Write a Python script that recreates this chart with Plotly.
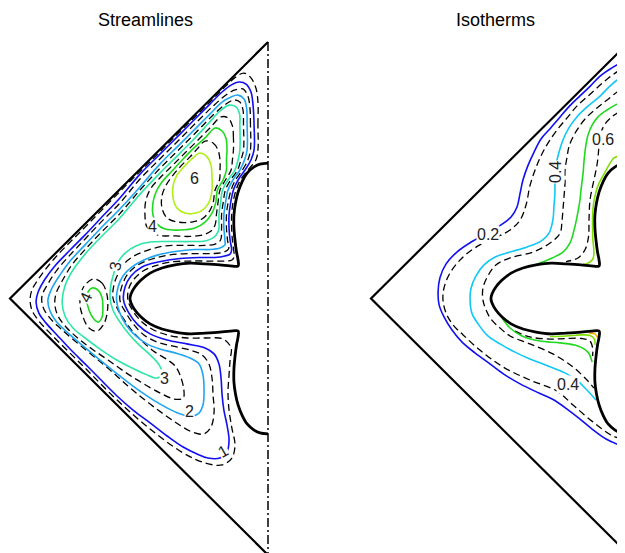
import plotly.graph_objects as go

# ---------------- geometry (dimensionless: left corner (0,0), symmetry line x=1) -------------
cavity = [(1.0, 1.0), (0.0, 0.0), (1.0, -1.0)]
symmetry_line = [(1.0, 1.0), (1.0, -1.0)]
body = [(1.000, 0.528), (0.969, 0.524), (0.946, 0.513), (0.919, 0.489), (0.899, 0.454), (0.884, 0.415),
        (0.874, 0.372), (0.868, 0.326), (0.868, 0.275), (0.872, 0.228), (0.878, 0.181), (0.884, 0.150),
        (0.884, 0.127), (0.853, 0.127), (0.814, 0.131), (0.756, 0.135), (0.698, 0.138), (0.640, 0.131),
        (0.589, 0.119), (0.543, 0.099), (0.508, 0.072), (0.484, 0.045), (0.469, 0.018), (0.465, 0.000),
        (0.469, -0.018), (0.484, -0.045), (0.508, -0.072), (0.543, -0.099), (0.589, -0.119), (0.640, -0.131),
        (0.698, -0.138), (0.756, -0.135), (0.814, -0.131), (0.853, -0.127), (0.884, -0.127), (0.884, -0.150),
        (0.878, -0.181), (0.872, -0.228), (0.868, -0.275), (0.868, -0.326), (0.874, -0.372), (0.884, -0.415),
        (0.899, -0.454), (0.919, -0.489), (0.946, -0.513), (0.969, -0.524), (1.000, -0.528)]

# ---------------- streamlines (solid = case A, dashed = case B) ----------------
psi_1 = [(0.946,0.579),(0.946,0.676),(0.942,0.754),(0.934,0.805),(0.915,0.836),(0.888,0.844),(0.857,0.832),(0.822,0.805),(0.775,0.758),(0.717,0.700),(0.659,0.641),(0.581,0.563),(0.504,0.485),(0.426,0.392),(0.349,0.310),(0.291,0.248),(0.233,0.189),(0.174,0.127),(0.136,0.076),(0.109,0.025),(0.101,-0.014),(0.112,-0.057),(0.140,-0.096),(0.182,-0.142),(0.233,-0.197),(0.291,-0.255),(0.349,-0.314),(0.415,-0.380),(0.477,-0.435),(0.543,-0.485),(0.609,-0.536),(0.671,-0.579),(0.725,-0.606),(0.767,-0.622),(0.814,-0.622),(0.841,-0.598),(0.849,-0.552),(0.841,-0.493),(0.829,-0.435),(0.822,-0.376),(0.818,-0.310),(0.810,-0.255),(0.791,-0.216),(0.756,-0.193),(0.686,-0.177),(0.609,-0.162),(0.543,-0.138),(0.496,-0.103),(0.461,-0.057),(0.440,-0.006),(0.446,0.045),(0.469,0.088),(0.512,0.123),(0.574,0.142),(0.659,0.156),(0.736,0.160),(0.795,0.160),(0.833,0.166),(0.853,0.173),(0.859,0.189),(0.853,0.228),(0.849,0.275),(0.849,0.326),(0.855,0.372),(0.866,0.423),(0.884,0.462),(0.911,0.501),(0.934,0.540)]
psi_2 = [(0.919,0.579),(0.919,0.676),(0.917,0.743),(0.907,0.778),(0.884,0.793),(0.857,0.786),(0.822,0.766),(0.775,0.719),(0.736,0.680),(0.659,0.602),(0.581,0.524),(0.504,0.435),(0.426,0.349),(0.349,0.271),(0.291,0.209),(0.233,0.146),(0.194,0.092),(0.163,0.041),(0.147,-0.006),(0.155,-0.049),(0.178,-0.088),(0.221,-0.131),(0.283,-0.185),(0.349,-0.240),(0.426,-0.302),(0.504,-0.361),(0.574,-0.407),(0.640,-0.442),(0.694,-0.458),(0.729,-0.450),(0.748,-0.415),(0.752,-0.357),(0.748,-0.298),(0.733,-0.255),(0.698,-0.232),(0.640,-0.212),(0.581,-0.197),(0.531,-0.177),(0.488,-0.146),(0.453,-0.107),(0.426,-0.057),(0.413,-0.006),(0.419,0.045),(0.438,0.088),(0.473,0.123),(0.519,0.150),(0.574,0.170),(0.640,0.183),(0.717,0.191),(0.775,0.191),(0.814,0.197),(0.833,0.209),(0.833,0.228),(0.829,0.275),(0.829,0.326),(0.835,0.372),(0.845,0.423),(0.864,0.462),(0.891,0.501),(0.909,0.540)]
psi_3 = [(0.891,0.579),(0.891,0.676),(0.890,0.719),(0.876,0.747),(0.849,0.754),(0.814,0.731),(0.767,0.680),(0.717,0.626),(0.659,0.567),(0.581,0.489),(0.504,0.407),(0.426,0.314),(0.349,0.236),(0.291,0.173),(0.244,0.111),(0.213,0.049),(0.202,-0.014),(0.213,-0.068),(0.244,-0.115),(0.291,-0.154),(0.349,-0.197),(0.407,-0.236),(0.465,-0.267),(0.523,-0.294),(0.570,-0.310),(0.589,-0.294),(0.578,-0.259),(0.543,-0.220),(0.500,-0.181),(0.461,-0.138),(0.426,-0.092),(0.399,-0.045),(0.388,0.002),(0.391,0.053),(0.403,0.099),(0.419,0.142),(0.446,0.177),(0.488,0.205),(0.543,0.220),(0.620,0.222),(0.698,0.222),(0.756,0.224),(0.787,0.236),(0.806,0.259),(0.810,0.275),(0.810,0.326),(0.816,0.372),(0.824,0.423),(0.845,0.462),(0.872,0.501),(0.884,0.540)]
psi_4_upper = [(0.795,0.665),(0.822,0.653),(0.837,0.626),(0.841,0.579),(0.839,0.540),(0.839,0.501),(0.826,0.462),(0.804,0.423),(0.797,0.372),(0.783,0.333),(0.756,0.298),(0.717,0.275),(0.659,0.267),(0.601,0.271),(0.570,0.290),(0.554,0.326),(0.554,0.372),(0.566,0.415),(0.589,0.454),(0.628,0.497),(0.671,0.544),(0.717,0.591),(0.760,0.630)]
psi_4_lower = [(0.318,0.041),(0.341,0.033),(0.357,0.002),(0.360,-0.037),(0.357,-0.072),(0.341,-0.092),(0.322,-0.076),(0.306,-0.045),(0.298,-0.006),(0.302,0.025)]
psi_6 = [(0.736,0.567),(0.764,0.552),(0.779,0.520),(0.783,0.470),(0.783,0.423),(0.775,0.384),(0.756,0.353),(0.721,0.333),(0.678,0.333),(0.647,0.353),(0.632,0.392),(0.632,0.439),(0.647,0.481),(0.674,0.513),(0.705,0.544)]

psi_b_05 = [(0.961,0.579),(0.961,0.676),(0.961,0.766),(0.953,0.821),(0.934,0.860),(0.907,0.879),(0.876,0.864),(0.833,0.825),(0.775,0.766),(0.659,0.651),(0.543,0.534),(0.426,0.417),(0.310,0.298),(0.233,0.220),(0.174,0.158),(0.116,0.084),(0.085,0.033),(0.078,-0.006),(0.085,-0.045),(0.109,-0.084),(0.155,-0.135),(0.283,-0.263),(0.415,-0.396),(0.543,-0.509),(0.671,-0.602),(0.756,-0.641),(0.822,-0.649),(0.860,-0.622),(0.872,-0.571),(0.860,-0.505),(0.849,-0.435),(0.845,-0.365),(0.849,-0.298),(0.853,-0.240),(0.857,-0.193),(0.826,-0.158),(0.756,-0.154),(0.686,-0.154),(0.609,-0.142),(0.550,-0.119),(0.508,-0.088),(0.477,-0.049),(0.457,-0.006),(0.461,0.041),(0.481,0.076),(0.516,0.107),(0.562,0.127),(0.620,0.142),(0.698,0.146),(0.775,0.146),(0.829,0.146),(0.860,0.150),(0.870,0.166),(0.868,0.181),(0.862,0.228),(0.859,0.275),(0.859,0.326),(0.864,0.372),(0.876,0.423),(0.893,0.462),(0.922,0.501),(0.953,0.540)]
psi_b_15 = [(0.932,0.579),(0.932,0.676),(0.930,0.743),(0.922,0.789),(0.903,0.817),(0.872,0.813),(0.837,0.793),(0.787,0.750),(0.736,0.700),(0.659,0.622),(0.581,0.544),(0.504,0.466),(0.426,0.372),(0.349,0.294),(0.291,0.232),(0.233,0.170),(0.182,0.111),(0.147,0.057),(0.124,0.010),(0.128,-0.033),(0.151,-0.072),(0.194,-0.115),(0.252,-0.166),(0.318,-0.220),(0.388,-0.279),(0.457,-0.341),(0.523,-0.396),(0.589,-0.446),(0.651,-0.489),(0.705,-0.520),(0.752,-0.528),(0.779,-0.501),(0.791,-0.442),(0.787,-0.376),(0.783,-0.310),(0.771,-0.255),(0.744,-0.220),(0.698,-0.201),(0.628,-0.185),(0.570,-0.170),(0.519,-0.142),(0.481,-0.103),(0.450,-0.057),(0.426,-0.006),(0.434,0.049),(0.457,0.096),(0.496,0.131),(0.550,0.154),(0.620,0.170),(0.698,0.175),(0.775,0.175),(0.822,0.179),(0.847,0.193),(0.843,0.228),(0.839,0.275),(0.839,0.326),(0.845,0.372),(0.857,0.423),(0.874,0.462),(0.901,0.501),(0.922,0.540)]
psi_b_25 = [(0.905,0.579),(0.905,0.676),(0.903,0.735),(0.891,0.766),(0.868,0.774),(0.837,0.758),(0.791,0.719),(0.736,0.663),(0.659,0.585),(0.581,0.507),(0.504,0.423),(0.426,0.331),(0.349,0.253),(0.291,0.191),(0.240,0.131),(0.202,0.068),(0.178,0.018),(0.174,-0.025),(0.186,-0.068),(0.217,-0.111),(0.267,-0.158),(0.318,-0.197),(0.380,-0.240),(0.446,-0.287),(0.512,-0.329),(0.581,-0.368),(0.636,-0.392),(0.671,-0.388),(0.674,-0.357),(0.659,-0.298),(0.640,-0.263),(0.612,-0.240),(0.562,-0.209),(0.519,-0.173),(0.481,-0.135),(0.446,-0.088),(0.419,-0.045),(0.399,0.002),(0.403,0.053),(0.419,0.096),(0.442,0.135),(0.481,0.166),(0.535,0.189),(0.601,0.205),(0.678,0.207),(0.756,0.207),(0.795,0.212),(0.816,0.228),(0.820,0.275),(0.820,0.326),(0.826,0.372),(0.835,0.423),(0.855,0.462),(0.882,0.501),(0.895,0.540)]
psi_b_35_upper = [(0.866,0.579),(0.866,0.626),(0.862,0.673),(0.845,0.704),(0.818,0.708),(0.775,0.665),(0.729,0.618),(0.678,0.567),(0.628,0.517),(0.581,0.470),(0.547,0.431),(0.527,0.384),(0.523,0.329),(0.531,0.279),(0.570,0.248),(0.640,0.244),(0.698,0.242),(0.748,0.248),(0.779,0.263),(0.795,0.287),(0.800,0.326),(0.806,0.372),(0.814,0.423),(0.835,0.462),(0.857,0.501),(0.862,0.540)]
psi_b_35_lower = [(0.322,0.076),(0.357,0.060),(0.376,0.014),(0.378,-0.045),(0.364,-0.099),(0.337,-0.127),(0.306,-0.115),(0.283,-0.072),(0.271,-0.018),(0.283,0.041)]
psi_b_5 = [(0.756,0.614),(0.787,0.606),(0.806,0.579),(0.814,0.540),(0.814,0.501),(0.812,0.462),(0.795,0.423),(0.787,0.372),(0.771,0.337),(0.744,0.310),(0.705,0.298),(0.651,0.298),(0.609,0.314),(0.589,0.353),(0.589,0.400),(0.605,0.442),(0.632,0.481),(0.663,0.517),(0.698,0.552),(0.729,0.587)]

# ---------------- isotherms ----------------
theta_02 = [(1.000,0.938),(0.973,0.922),(0.934,0.899),(0.888,0.867),(0.849,0.827),(0.810,0.790),(0.771,0.752),(0.733,0.708),(0.694,0.662),(0.659,0.622),(0.632,0.571),(0.609,0.520),(0.589,0.462),(0.578,0.411),(0.566,0.357),(0.543,0.318),(0.504,0.287),(0.453,0.255),(0.395,0.224),(0.333,0.181),(0.291,0.135),(0.267,0.080),(0.260,0.025),(0.264,-0.025),(0.283,-0.072),(0.314,-0.123),(0.353,-0.170),(0.403,-0.212),(0.461,-0.255),(0.519,-0.298),(0.578,-0.333),(0.643,-0.365),(0.702,-0.392),(0.760,-0.431),(0.810,-0.470),(0.857,-0.509),(0.911,-0.548),(0.953,-0.567),(1.000,-0.579)]
theta_04 = [(1.000,0.875),(0.977,0.867),(0.930,0.832),(0.888,0.789),(0.841,0.750),(0.798,0.708),(0.767,0.665),(0.744,0.618),(0.729,0.571),(0.717,0.520),(0.713,0.470),(0.713,0.415),(0.709,0.357),(0.705,0.306),(0.690,0.255),(0.659,0.224),(0.605,0.201),(0.539,0.181),(0.481,0.162),(0.438,0.131),(0.407,0.088),(0.388,0.041),(0.384,-0.006),(0.391,-0.057),(0.415,-0.099),(0.453,-0.146),(0.500,-0.177),(0.558,-0.209),(0.616,-0.236),(0.686,-0.263),(0.752,-0.290),(0.802,-0.322),(0.837,-0.357),(0.872,-0.396)]
theta_06_upper = [(1.000,0.782),(0.985,0.774),(0.946,0.754),(0.915,0.735),(0.880,0.708),(0.857,0.676),(0.841,0.637),(0.833,0.598),(0.826,0.540),(0.822,0.489),(0.814,0.423),(0.810,0.384),(0.802,0.337),(0.787,0.267),(0.771,0.216),(0.744,0.181),(0.702,0.158),(0.636,0.131)]
theta_06_lower = [(0.508,-0.076),(0.539,-0.115),(0.585,-0.146),(0.655,-0.166),(0.733,-0.173),(0.802,-0.185),(0.841,-0.209),(0.857,-0.248)]
theta_08_upper = [(1.000,0.563),(0.977,0.559),(0.942,0.548),(0.922,0.520),(0.903,0.485),(0.882,0.446),(0.870,0.407),(0.862,0.365),(0.859,0.322),(0.859,0.275),(0.860,0.228),(0.864,0.185),(0.860,0.154),(0.841,0.138),(0.822,0.133)]
theta_08_lower = [(0.694,-0.148),(0.756,-0.146),(0.814,-0.142),(0.849,-0.144),(0.866,-0.158),(0.868,-0.181)]
theta_09 = [(0.845,-0.135),(0.868,-0.138),(0.878,-0.152)]

theta_b_03 = [(1.000,0.910),(0.965,0.891),(0.926,0.864),(0.888,0.832),(0.841,0.789),(0.798,0.750),(0.760,0.704),(0.721,0.657),(0.686,0.606),(0.659,0.556),(0.636,0.501),(0.616,0.439),(0.601,0.365),(0.578,0.306),(0.539,0.267),(0.488,0.240),(0.422,0.209),(0.357,0.162),(0.306,0.099),(0.283,0.041),(0.279,-0.006),(0.291,-0.057),(0.318,-0.103),(0.357,-0.142),(0.422,-0.201),(0.512,-0.267),(0.616,-0.318),(0.721,-0.361),(0.783,-0.415),(0.860,-0.481),(0.938,-0.536),(1.000,-0.552)]
theta_b_05 = [(1.000,0.828),(0.965,0.813),(0.915,0.774),(0.876,0.743),(0.837,0.708),(0.806,0.669),(0.783,0.630),(0.767,0.591),(0.760,0.552),(0.752,0.501),(0.752,0.450),(0.748,0.396),(0.744,0.345),(0.740,0.298),(0.733,0.255),(0.694,0.216),(0.628,0.181),(0.539,0.158),(0.484,0.131),(0.453,0.088),(0.434,0.041),(0.434,-0.006),(0.446,-0.045),(0.465,-0.080),(0.500,-0.115),(0.539,-0.146),(0.616,-0.177),(0.705,-0.216),(0.783,-0.267),(0.837,-0.318),(0.864,-0.349)]
theta_b_07_upper = [(1.000,0.743),(0.977,0.735),(0.938,0.712),(0.907,0.680),(0.891,0.645),(0.884,0.598),(0.880,0.552),(0.874,0.509),(0.864,0.462),(0.849,0.384),(0.845,0.306),(0.843,0.240),(0.829,0.189),(0.802,0.158),(0.756,0.144)]
theta_b_07_lower = [(0.558,-0.127),(0.616,-0.150),(0.694,-0.158),(0.756,-0.156),(0.818,-0.156),(0.849,-0.166),(0.859,-0.193),(0.859,-0.224)]

# labels: (text, x, y, angle)
psi_labels = [("6", 0.717, 0.467, 0), ("4", 0.554, 0.279, 0), ("3", 0.408, 0.125, -80), ("4", 0.295, 0.002, -65),
              ("3", 0.597, -0.310, 0), ("2", 0.694, -0.442, 0), ("1", 0.826, -0.598, -30)]
theta_labels = [("0.2", 0.453, 0.251, 0), ("0.4", 0.713, 0.493, -90), ("0.6", 0.899, 0.618, 0), ("0.4", 0.764, -0.337, 0)]

BLUE, LBLUE, TEAL, GREEN, YGREEN = "#1010f0", "#1ea6f2", "#2ee6a6", "#1fd91f", "#b0ee1a"
CYAN, LIME, ORANGE = "#10c8f5", "#7fe000", "#ffb000"
DASH = "7px,4px"

fig = go.Figure()


def add(pts, color, width, xa="x", dash="solid", closed=False, spline=True):
    xs = [p[0] for p in pts]
    ys = [p[1] for p in pts]
    if closed:
        xs.append(xs[0]); ys.append(ys[0])
    line = dict(color=color, width=width, dash=dash)
    if spline:
        line.update(shape="spline", smoothing=1.0)
    fig.add_trace(go.Scatter(x=xs, y=ys, xaxis=xa, yaxis="y", mode="lines", line=line,
                             hoverinfo="skip", showlegend=False))


# streamlines panel
for pts in [psi_b_05, psi_b_15, psi_b_25, psi_b_35_upper, psi_b_35_lower, psi_b_5]:
    add(pts, "black", 1.3, "x", DASH, closed=True)
for pts, col in [(psi_1, BLUE), (psi_2, LBLUE), (psi_3, TEAL), (psi_4_upper, GREEN),
                 (psi_4_lower, GREEN), (psi_6, YGREEN)]:
    add(pts, col, 1.6, "x", closed=True)

# isotherms panel
for pts in [theta_b_03, theta_b_05, theta_b_07_upper, theta_b_07_lower]:
    add(pts, "black", 1.3, "x2", DASH)
for pts, col in [(theta_02, BLUE), (theta_04, CYAN), (theta_06_upper, GREEN), (theta_06_lower, GREEN),
                 (theta_08_upper, LIME), (theta_08_lower, LIME), (theta_09, ORANGE)]:
    add(pts, col, 1.6, "x2")

for xa in ["x", "x2"]:
    add(cavity, "black", 2.2, xa, spline=False)
    add(body, "black", 2.8, xa, spline=True)
    add(symmetry_line, "black", 1.5, xa, dash="9px,3px,2px,3px", spline=False)

ann = []
for txt, x, y, ang in psi_labels:
    ann.append(dict(text=txt, x=x, y=y, xref="x", yref="y", showarrow=False, textangle=ang,
                    font=dict(family="Liberation Sans, Arial", size=16, color="#222"),
                    bgcolor="white", borderpad=0))
for txt, x, y, ang in theta_labels:
    ann.append(dict(text=txt, x=x, y=y, xref="x2", yref="y", showarrow=False, textangle=ang,
                    font=dict(family="Liberation Sans, Arial", size=16, color="#222"),
                    bgcolor="white", borderpad=0))
ann.append(dict(text="Streamlines", x=0.527, y=1.086, xref="x", yref="y", showarrow=False,
                font=dict(family="Liberation Sans, Arial", size=18, color="black")))
ann.append(dict(text="Isotherms", x=0.481, y=1.086, xref="x2", yref="y", showarrow=False,
                font=dict(family="Liberation Sans, Arial", size=18, color="black")))

# the page body has an 8px margin, so the axis ranges are set for that offset
fig.update_layout(
    width=625, height=553, margin=dict(l=0, r=0, t=0, b=0, pad=0),
    paper_bgcolor="white", plot_bgcolor="white", showlegend=False,
    xaxis=dict(range=[-0.007752, 2.41473], visible=False, domain=[0, 1], fixedrange=True),
    xaxis2=dict(range=[-1.40698, 1.01550], visible=False, overlaying="x", anchor="y", fixedrange=True),
    yaxis=dict(range=[-1.02339, 1.13255], visible=False, fixedrange=True),
    annotations=ann,
)

fig.write_html("out.html", config={"displayModeBar": False})
